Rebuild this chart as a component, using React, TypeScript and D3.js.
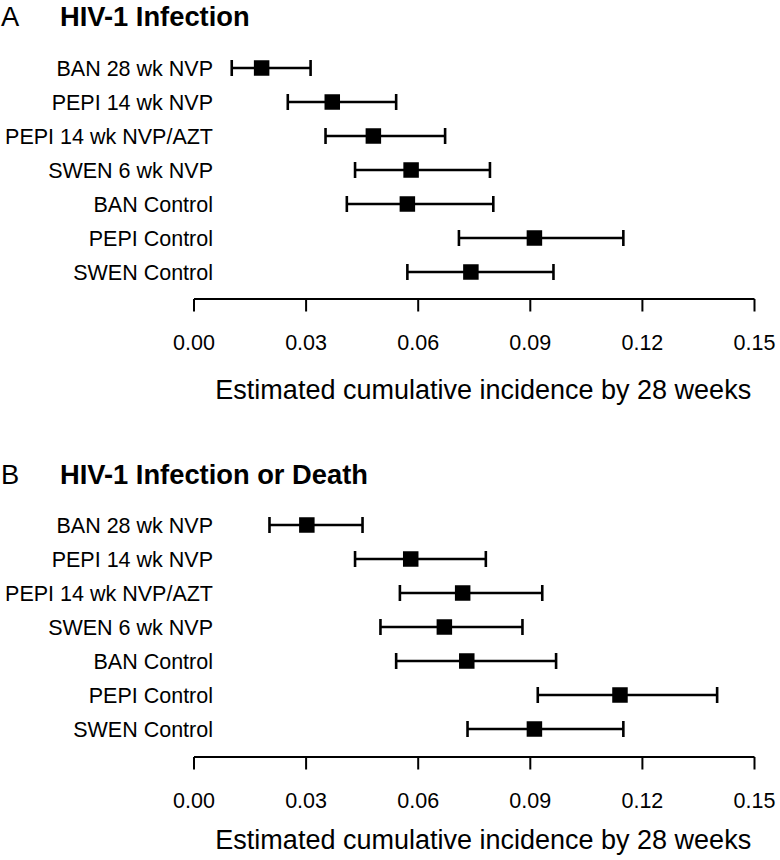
import React from "react";
import * as d3 from "d3";

const categories = [
  "BAN 28 wk NVP",
  "PEPI 14 wk NVP",
  "PEPI 14 wk NVP/AZT",
  "SWEN 6 wk NVP",
  "BAN Control",
  "PEPI Control",
  "SWEN Control",
];

// Panel A: HIV-1 Infection
const infEst = [0.0181, 0.037, 0.048, 0.0581, 0.0571, 0.0911, 0.0741];
const infLo = [0.0101, 0.0251, 0.0352, 0.0431, 0.0409, 0.0709, 0.0571];
const infHi = [0.0312, 0.0541, 0.0672, 0.0792, 0.0801, 0.1149, 0.0962];

// Panel B: HIV-1 Infection or Death
const deathEst = [0.0302, 0.058, 0.0719, 0.067, 0.073, 0.114, 0.0911];
const deathLo = [0.0202, 0.0431, 0.0551, 0.0499, 0.0541, 0.092, 0.0732];
const deathHi = [0.0451, 0.0781, 0.0932, 0.0879, 0.0969, 0.14, 0.1149];

const tickValues = [0, 0.03, 0.06, 0.09, 0.12, 0.15];
const axisTitle = "Estimated cumulative incidence by 28 weeks";

const FONT = "'Liberation Sans', Arial, Helvetica, sans-serif";

type PanelProps = {
  letter: string;
  title: string;
  titleY: number;
  rowTop: number;
  rowBottom: number;
  axisY: number;
  axisTitleY: number;
  est: number[];
  lo: number[];
  hi: number[];
};

const x = d3.scaleLinear().domain([0, 0.15]).range([194, 754.5]);

function Panel(p: PanelProps) {
  const y = d3.scalePoint<string>().domain(categories).range([p.rowTop, p.rowBottom]);
  const sq = 15.5;
  const cap = 8;
  return (
    <g>
      <text x={1} y={p.titleY} fontFamily={FONT} fontSize={27.3} fill="#000">
        {p.letter}
      </text>
      <text x={60} y={p.titleY} fontFamily={FONT} fontSize={27.3} fontWeight="bold" fill="#000">
        {p.title}
      </text>
      {categories.map((c, i) => {
        const cy = y(c) as number;
        return (
          <g key={c}>
            <text
              x={213}
              y={cy + 7.7}
              textAnchor="end"
              fontFamily={FONT}
              fontSize={21.5}
              fill="#000"
            >
              {c}
            </text>
            <line x1={x(p.lo[i])} x2={x(p.hi[i])} y1={cy} y2={cy} stroke="#000" strokeWidth={2.6} />
            <line x1={x(p.lo[i])} x2={x(p.lo[i])} y1={cy - cap} y2={cy + cap} stroke="#000" strokeWidth={2.6} />
            <line x1={x(p.hi[i])} x2={x(p.hi[i])} y1={cy - cap} y2={cy + cap} stroke="#000" strokeWidth={2.6} />
            <rect x={x(p.est[i]) - sq / 2} y={cy - sq / 2} width={sq} height={sq} fill="#000" />
          </g>
        );
      })}
      <line x1={x(0)} x2={x(0.15)} y1={p.axisY} y2={p.axisY} stroke="#000" strokeWidth={2} />
      {tickValues.map((t) => (
        <g key={t}>
          <line x1={x(t)} x2={x(t)} y1={p.axisY} y2={p.axisY + 12.5} stroke="#000" strokeWidth={2} />
          <text
            x={x(t)}
            y={p.axisY + 50.5}
            textAnchor="middle"
            fontFamily={FONT}
            fontSize={21.5}
            fill="#000"
          >
            {d3.format(".2f")(t)}
          </text>
        </g>
      ))}
      <text
        x={(x(0) + x(0.15)) / 2 + 9}
        y={p.axisTitleY}
        textAnchor="middle"
        fontFamily={FONT}
        fontSize={27}
        fill="#000"
      >
        {axisTitle}
      </text>
    </g>
  );
}

export default function App() {
  return (
    <svg
      width={780}
      height={860}
      style={{ position: "absolute", left: 0, top: 0, background: "#fff" }}
    >
      <rect width={780} height={860} fill="#fff" />
      <Panel
        letter="A"
        title="HIV-1 Infection"
        titleY={26}
        rowTop={68}
        rowBottom={272}
        axisY={299}
        axisTitleY={398.5}
        est={infEst}
        lo={infLo}
        hi={infHi}
      />
      <Panel
        letter="B"
        title="HIV-1 Infection or Death"
        titleY={484}
        rowTop={525}
        rowBottom={729}
        axisY={757}
        axisTitleY={848.5}
        est={deathEst}
        lo={deathLo}
        hi={deathHi}
      />
    </svg>
  );
}
